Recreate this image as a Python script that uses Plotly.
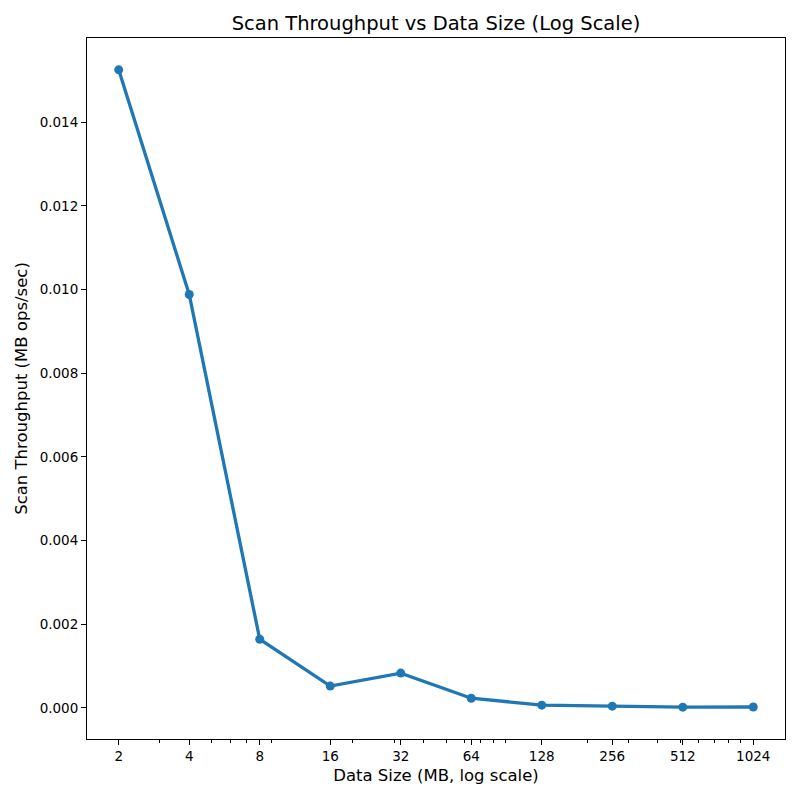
import math
import plotly.graph_objects as go

data_sizes = [2, 4, 8, 16, 32, 64, 128, 256, 512, 1024]
throughput = [0.01525, 0.00988, 0.00164, 0.00052, 0.00083, 0.00023, 0.000065, 0.00004, 0.000017, 0.00002]
x_tick_labels = ["2", "4", "8", "16", "32", "64", "128", "256", "512", "1024"]
y_tick_vals = [0.0, 0.002, 0.004, 0.006, 0.008, 0.010, 0.012, 0.014]
minor_vals = [3, 5, 6, 7, 9, 20, 30, 40, 50, 60, 70, 80, 90,
              200, 300, 400, 500, 600, 700, 800, 900]

FONT = "DejaVu Sans"

fig = go.Figure()
fig.add_trace(go.Scatter(
    x=data_sizes, y=throughput, mode="lines+markers",
    line=dict(color="#1f77b4", width=3.3),
    marker=dict(color="#1f77b4", size=9),
    showlegend=False,
))

lx0, lx1 = math.log10(min(data_sizes)), math.log10(max(data_sizes))
xpad = (lx1 - lx0) * 0.05
ymin, ymax = min(throughput), max(throughput)
ypad = (ymax - ymin) * 0.05

fig.update_layout(
    width=800, height=800,
    margin=dict(l=79, r=23, t=30, b=69),
    paper_bgcolor="white", plot_bgcolor="white",
    font=dict(family=FONT, color="black", size=13),
    title=dict(text="Scan Throughput vs Data Size (Log Scale)",
               xref="paper", x=0.5, xanchor="center",
               yref="container", y=1 - 15 / 800, yanchor="middle",
               font=dict(size=19.5, family=FONT)),
    xaxis=dict(
        type="log", range=[lx0 - xpad, lx1 + xpad],
        tickmode="array", tickvals=data_sizes, ticktext=x_tick_labels,
        ticks="outside", ticklen=5, tickwidth=1, tickcolor="black",
        showline=True, linecolor="black", linewidth=1, mirror=True,
        showgrid=False, zeroline=False,
        tickfont=dict(size=13.5),
        minor=dict(tickmode="array", tickvals=minor_vals, ticks="outside",
                   ticklen=3, tickwidth=0.8, tickcolor="black", showgrid=False),
        title=dict(text="Data Size (MB, log scale)", font=dict(size=16.5), standoff=6),
    ),
    yaxis=dict(
        range=[ymin - ypad, ymax + ypad],
        tickmode="array", tickvals=y_tick_vals, tickformat=".3f",
        ticks="outside", ticklen=5, tickwidth=1, tickcolor="black",
        showline=True, linecolor="black", linewidth=1, mirror=True,
        showgrid=False, zeroline=False,
        tickfont=dict(size=13.5),
        title=dict(text="Scan Throughput (MB ops/sec)", font=dict(size=16.5), standoff=7),
    ),
)

fig.write_html("out.html")
